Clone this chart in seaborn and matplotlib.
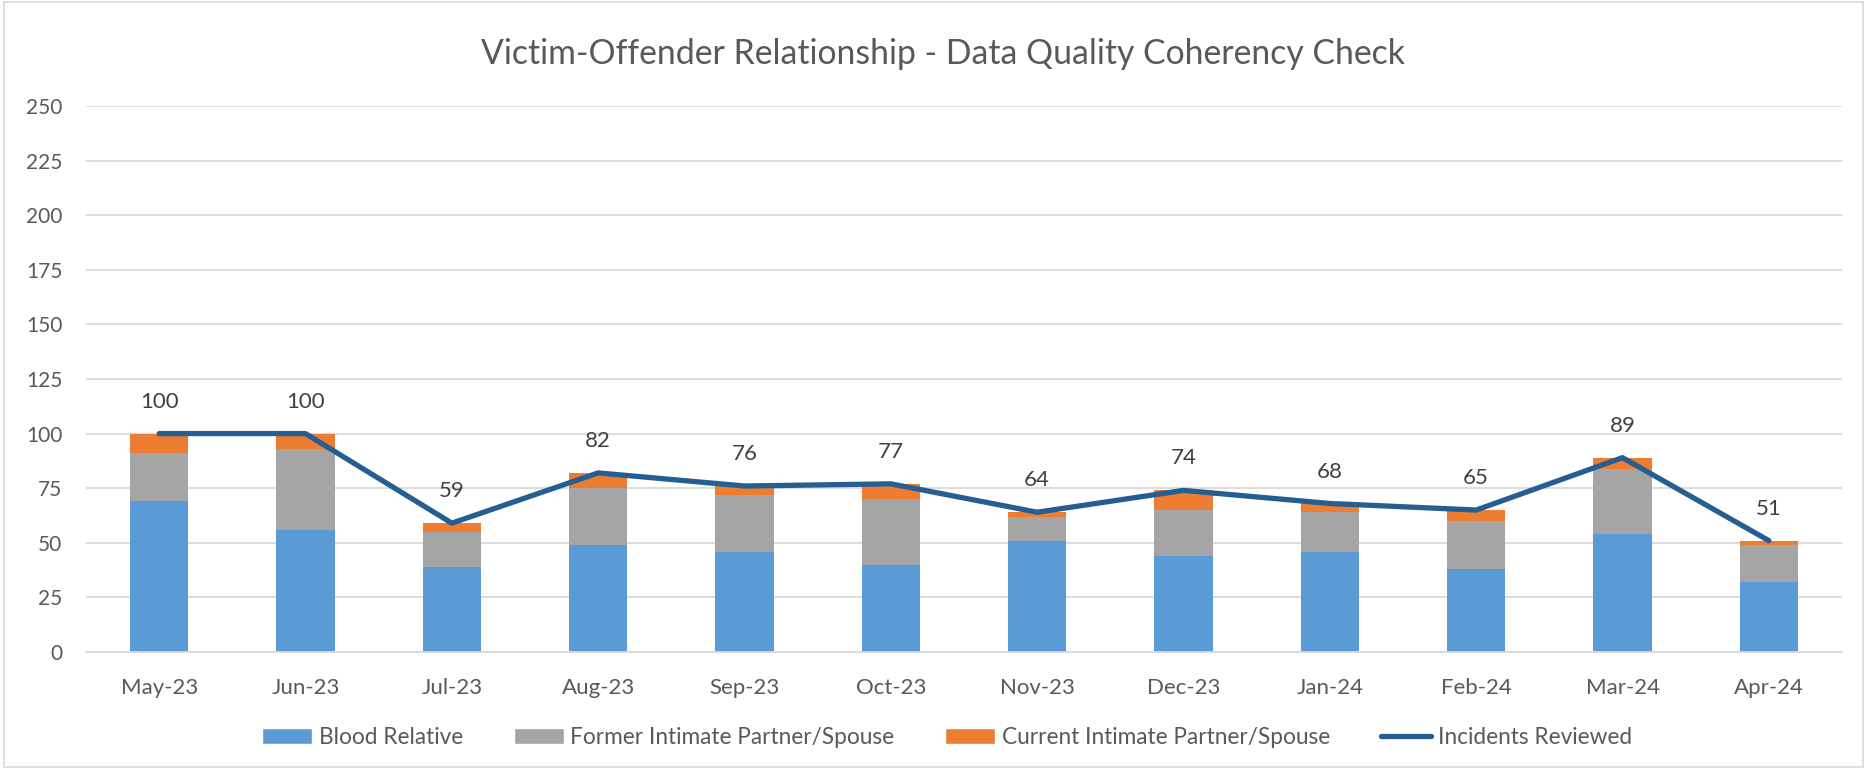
import numpy as np
import pandas as pd
import matplotlib
matplotlib.use("Agg")
import matplotlib.pyplot as plt
import seaborn as sns
from matplotlib.patches import Rectangle, Patch
from matplotlib.lines import Line2D

months = ["May-23", "Jun-23", "Jul-23", "Aug-23", "Sep-23", "Oct-23",
          "Nov-23", "Dec-23", "Jan-24", "Feb-24", "Mar-24", "Apr-24"]
blood_relative = [69, 56, 39, 49, 46, 40, 51, 44, 46, 38, 54, 32]
former_partner = [22, 37, 16, 26, 26, 30, 11, 21, 18, 22, 30, 17]
current_partner = [9, 7, 4, 7, 4, 7, 2, 9, 4, 5, 5, 2]
incidents_reviewed = [100, 100, 59, 82, 76, 77, 64, 74, 68, 65, 89, 51]
y_ticks = [0, 25, 50, 75, 100, 125, 150, 175, 200, 225, 250]

series_names = ["Blood Relative", "Former Intimate Partner/Spouse",
                "Current Intimate Partner/Spouse", "Incidents Reviewed"]
c_blue, c_gray, c_orange, c_line = "#5B9BD5", "#A5A5A5", "#ED7D31", "#255E91"
text_col = "#595959"

sns.set_theme(style="white")
plt.rcParams["font.family"] = ["Lato", "DejaVu Sans"]

fig = plt.figure(figsize=(18.67, 7.69), dpi=100)
ax = fig.add_axes([86 / 1867, 1 - 652 / 769, (1842 - 86) / 1867, (652 - 106) / 769])

df = pd.DataFrame({"month": months, "blood": blood_relative,
                   "former": former_partner, "current": current_partner,
                   "total": incidents_reviewed})
b1 = np.array(blood_relative)
b2 = b1 + np.array(former_partner)

sns.barplot(data=df, x="month", y="blood", color=c_blue, width=0.4,
            saturation=1, ax=ax, linewidth=0)
sns.barplot(data=df, x="month", y="former", bottom=b1, color=c_gray, width=0.4,
            saturation=1, ax=ax, linewidth=0)
sns.barplot(data=df, x="month", y="current", bottom=b2, color=c_orange, width=0.4,
            saturation=1, ax=ax, linewidth=0)

pos = np.arange(len(months))
sns.lineplot(x=pos, y=incidents_reviewed, color=c_line, linewidth=3.8, ax=ax,
             solid_capstyle="round", solid_joinstyle="round", zorder=5)

for x, v in zip(pos, incidents_reviewed):
    ax.annotate(str(v), (x, v), xytext=(0, 23), textcoords="offset points",
                ha="center", va="center", fontsize=16, color="#404040")

ax.set_xlim(-0.5, len(months) - 0.5)
ax.set_ylim(0, 250)
ax.set_yticks(y_ticks)
ax.set_yticklabels([str(t) for t in y_ticks])
ax.set_xlabel("")
ax.set_ylabel("")
ax.grid(axis="y", color="#D9D9D9", linewidth=1.3)
ax.set_axisbelow(True)
for s in ["left", "right", "top"]:
    ax.spines[s].set_visible(False)
ax.spines["bottom"].set_color("#D9D9D9")
ax.spines["bottom"].set_linewidth(1.3)
ax.tick_params(axis="y", length=0, pad=17, labelsize=15, labelcolor=text_col)
ax.tick_params(axis="x", which="major", length=0, pad=19, labelsize=16, labelcolor=text_col)
ax.set_xticks(np.arange(-0.5, len(months), 1.0), minor=True)
ax.tick_params(axis="x", which="minor", length=6, color="#D9D9D9", width=1.3, direction="out")

fig.text(943 / 1867, 1 - 54 / 769, "Victim-Offender Relationship - Data Quality Coherency Check",
         ha="center", va="center", fontsize=24.3, color=text_col)

handles = [Patch(facecolor=c_blue), Patch(facecolor=c_gray), Patch(facecolor=c_orange),
           Line2D([0], [0], color=c_line, linewidth=3.8, solid_capstyle="round")]
fig.legend(handles, series_names, loc="center", bbox_to_anchor=(947 / 1867, 1 - 737 / 769),
           ncol=4, frameon=False, fontsize=16.3, labelcolor=text_col,
           handlelength=2.2, handleheight=0.7, columnspacing=2.25, handletextpad=0.3)

fig.patches.append(Rectangle((0.002, 0.003), 0.996, 0.994, transform=fig.transFigure,
                             fill=False, edgecolor="#D9D9D9", linewidth=1.2))

fig.savefig("out.png", dpi=100)
